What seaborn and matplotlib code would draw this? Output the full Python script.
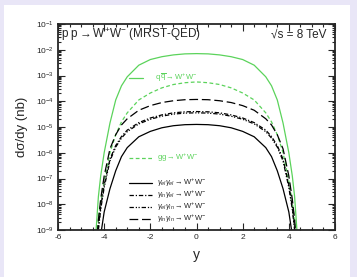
import numpy as np
import pandas as pd
import matplotlib
matplotlib.use('Agg')
import matplotlib.pyplot as plt
import seaborn as sns
from matplotlib.patches import Rectangle
from matplotlib.ticker import LogLocator, LogFormatterMathtext, MultipleLocator, NullFormatter

# rapidity grid (same for every curve)
rap = [-4.45, -4.35, -4.25, -4.15, -4.0, -3.75, -3.5, -3.25, -3.0, -2.5, -2.0, -1.5, -1.0, -0.5,
       0.0, 0.5, 1.0, 1.5, 2.0, 2.5, 3.0, 3.25, 3.5, 3.75, 4.0, 4.15, 4.25, 4.35, 4.45]

# log10(dsigma/dy [nb])
log_qqbar = [-10.5, -9.0, -7.7, -6.9, -6.0, -4.85, -3.95, -3.4, -3.05, -2.6, -2.38, -2.27, -2.2, -2.16,
             -2.15, -2.16, -2.2, -2.27, -2.38, -2.6, -3.05, -3.4, -3.95, -4.85, -6.0, -6.9, -7.7, -9.0, -10.5]
log_gg = [-10.4, -9.6, -8.6, -7.9, -7.1, -6.0, -5.3, -4.8, -4.45, -3.95, -3.68, -3.48, -3.35, -3.28,
          -3.25, -3.28, -3.35, -3.48, -3.68, -3.95, -4.45, -4.8, -5.3, -6.0, -7.1, -7.9, -8.6, -9.6, -10.4]
log_inin = [-10.6, -9.8, -8.6, -7.8, -6.9, -5.85, -5.3, -4.92, -4.68, -4.35, -4.17, -4.05, -3.98, -3.94,
            -3.93, -3.94, -3.98, -4.05, -4.17, -4.35, -4.68, -4.92, -5.3, -5.85, -6.9, -7.8, -8.6, -9.8, -10.6]
log_inel = [-10.8, -9.9, -8.9, -8.1, -7.25, -6.25, -5.72, -5.37, -5.12, -4.83, -4.65, -4.53, -4.45, -4.41,
            -4.40, -4.41, -4.45, -4.53, -4.65, -4.83, -5.12, -5.37, -5.72, -6.25, -7.25, -8.1, -8.9, -9.9, -10.8]
log_elin = [-10.9, -10.0, -9.0, -8.2, -7.35, -6.32, -5.78, -5.43, -5.18, -4.88, -4.70, -4.58, -4.50, -4.46,
            -4.45, -4.46, -4.50, -4.58, -4.70, -4.88, -5.18, -5.43, -5.78, -6.32, -7.35, -8.2, -9.0, -10.0, -10.9]
log_elel = [-11.5, -10.8, -10.0, -9.2, -8.3, -7.4, -6.7, -6.15, -5.8, -5.38, -5.17, -5.03, -4.95, -4.91,
            -4.90, -4.91, -4.95, -5.03, -5.17, -5.38, -5.8, -6.15, -6.7, -7.4, -8.3, -9.2, -10.0, -10.8, -11.5]

green = '#5bd35b'
curves = [
    ('qqbar', log_qqbar, green, '-'),
    ('gg', log_gg, green, (0, (3, 2))),
    ('elel', log_elel, 'black', '-'),
    ('inel', log_inel, 'black', (0, (3.5, 1.5, 1, 1.5))),
    ('elin', log_elin, 'black', (0, (3.5, 1.5, 1, 1.2, 1, 1.5))),
    ('inin', log_inin, 'black', (0, (7, 3))),
]

rows = []
for name, vals, _, _ in curves:
    for r, v in zip(rap, vals):
        rows.append({'process': name, 'y': r, 'dsdy': 10.0 ** v})
df = pd.DataFrame(rows)

sns.set_style('ticks')
plt.rcParams['font.family'] = ['Liberation Sans', 'DejaVu Sans']
plt.rcParams['mathtext.fontset'] = 'custom'
plt.rcParams['mathtext.rm'] = 'Liberation Sans'
plt.rcParams['mathtext.it'] = 'Liberation Sans:italic'
plt.rcParams['axes.unicode_minus'] = False

fig = plt.figure(figsize=(3.57, 2.77), dpi=100)
fig.patch.set_facecolor('#e9e6f7')
fig.patches.append(Rectangle((4 / 357, 0), 346 / 357, 272 / 277, transform=fig.transFigure,
                             facecolor='white', edgecolor='none', zorder=-10))

ax = fig.add_axes([58 / 357, 1 - 230 / 277, 277 / 357, 206 / 277])
ax.set_zorder(1)
ax.set_facecolor('white')

for name, vals, col, ls in curves:
    sub = df[df['process'] == name]
    sns.lineplot(data=sub, x='y', y='dsdy', color=col, linestyle=ls, linewidth=0.9,
                 sort=False, estimator=None, ax=ax)

ax.set_yscale('log')
ax.set_xlim(-6, 6)
ax.set_ylim(1e-9, 1e-1)

ax.xaxis.set_major_locator(MultipleLocator(2))
ax.xaxis.set_minor_locator(MultipleLocator(0.5))
ax.yaxis.set_major_locator(LogLocator(base=10, numticks=20))
ax.yaxis.set_minor_locator(LogLocator(base=10, subs=np.arange(2, 10), numticks=20))
ax.yaxis.set_major_formatter(LogFormatterMathtext())
ax.yaxis.set_minor_formatter(NullFormatter())
ax.tick_params(which='both', direction='in', top=True, right=True, labelsize=6, width=0.8)
ax.tick_params(axis='x', pad=3)
ax.tick_params(axis='y', pad=3)
ax.tick_params(which='major', length=5)
ax.tick_params(which='minor', length=2.5)
for sp in ax.spines.values():
    sp.set_linewidth(1.3)

ax.set_xlabel('y', fontsize=10, labelpad=5)
ax.set_ylabel('dσ/dy (nb)', fontsize=9.5, labelpad=6)

ax.text(0.01, 0.95, r'p p$\rightarrow$W$^{+}$W$^{-}$ (MRST-QED)', transform=ax.transAxes,
        fontsize=8.5, va='center', ha='left')
ax.text(0.97, 0.95, '√s = 8 TeV', transform=ax.transAxes, fontsize=8.5,
        va='center', ha='right')

# legend entries drawn in place
lx0, lx1, tx = -2.92, -1.93, -1.72
ax.plot([lx0, -2.32], [10 ** -3.1, 10 ** -3.1], color=green, lw=0.9)
ax.text(-1.8, 10 ** -3.1, r'q$\,\overline{\rm q}\rightarrow$W$^{+}$W$^{-}$', color=green,
        fontsize=5.5, va='center')
ax.plot([lx0, lx1], [10 ** -6.2, 10 ** -6.2], color=green, lw=0.9, ls=(0, (3, 2)))
ax.text(tx, 10 ** -6.2, r'gg$\rightarrow$W$^{+}$W$^{-}$', color=green, fontsize=5.5, va='center')

leg = [
    (r'$\gamma_{el}\gamma_{el}\rightarrow$W$^{+}$W$^{-}$', -7.17, '-'),
    (r'$\gamma_{in}\gamma_{el}\rightarrow$W$^{+}$W$^{-}$', -7.64, (0, (3.5, 1.5, 1, 1.5))),
    (r'$\gamma_{el}\gamma_{in}\rightarrow$W$^{+}$W$^{-}$', -8.11, (0, (3.5, 1.5, 1, 1.2, 1, 1.5))),
    (r'$\gamma_{in}\gamma_{in}\rightarrow$W$^{+}$W$^{-}$', -8.57, (0, (7, 3))),
]
for lab, yy, ls in leg:
    ax.plot([lx0, lx1], [10 ** yy, 10 ** yy], color='black', lw=0.9, ls=ls)
    ax.text(tx, 10 ** yy, lab, fontsize=5.5, va='center')

fig.savefig('out.png', dpi=100, facecolor=fig.get_facecolor())
